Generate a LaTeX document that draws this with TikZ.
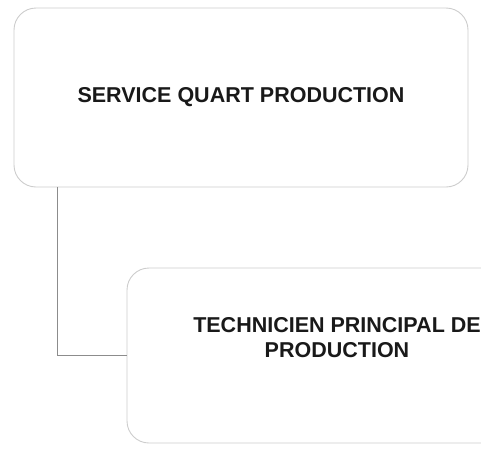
\documentclass[tikz,border=0pt]{standalone}
\usepackage{fontspec}
\setsansfont{Liberation Sans}
\usepackage{xcolor}
\usetikzlibrary{positioning,calc}
\definecolor{edge}{RGB}{205,205,205}
\definecolor{ink}{RGB}{25,25,25}
\tikzset{
  box/.style={draw=edge, line width=0.9pt, rounded corners=22pt, fill=white},
  title/.style={font=\sffamily\bfseries\fontsize{21.5}{25}\selectfont, text=ink, align=center, inner sep=0pt},
  link/.style={draw=black!45, line width=0.9pt}
}
\begin{document}
\begin{tikzpicture}[x=1pt, y=-1pt]
    \useasboundingbox (0,0) rectangle (481,450);
    \clip (0,0) rectangle (481,450);
    \node[box, minimum width=454pt, minimum height=179pt] (chef) at (241,97.5) {};
    \node[title] (chefname) at (241,97) {SERVICE QUART PRODUCTION};

    \node[box, minimum width=420pt, minimum height=175pt] (tech) at (337,355.5) {};
    \node[title] (techname) at (337,338) {TECHNICIEN PRINCIPAL DE\\PRODUCTION};

    \draw[link] ([xshift=44pt]chef.south west) |- (tech.west);
  \end{tikzpicture}
\end{document}
